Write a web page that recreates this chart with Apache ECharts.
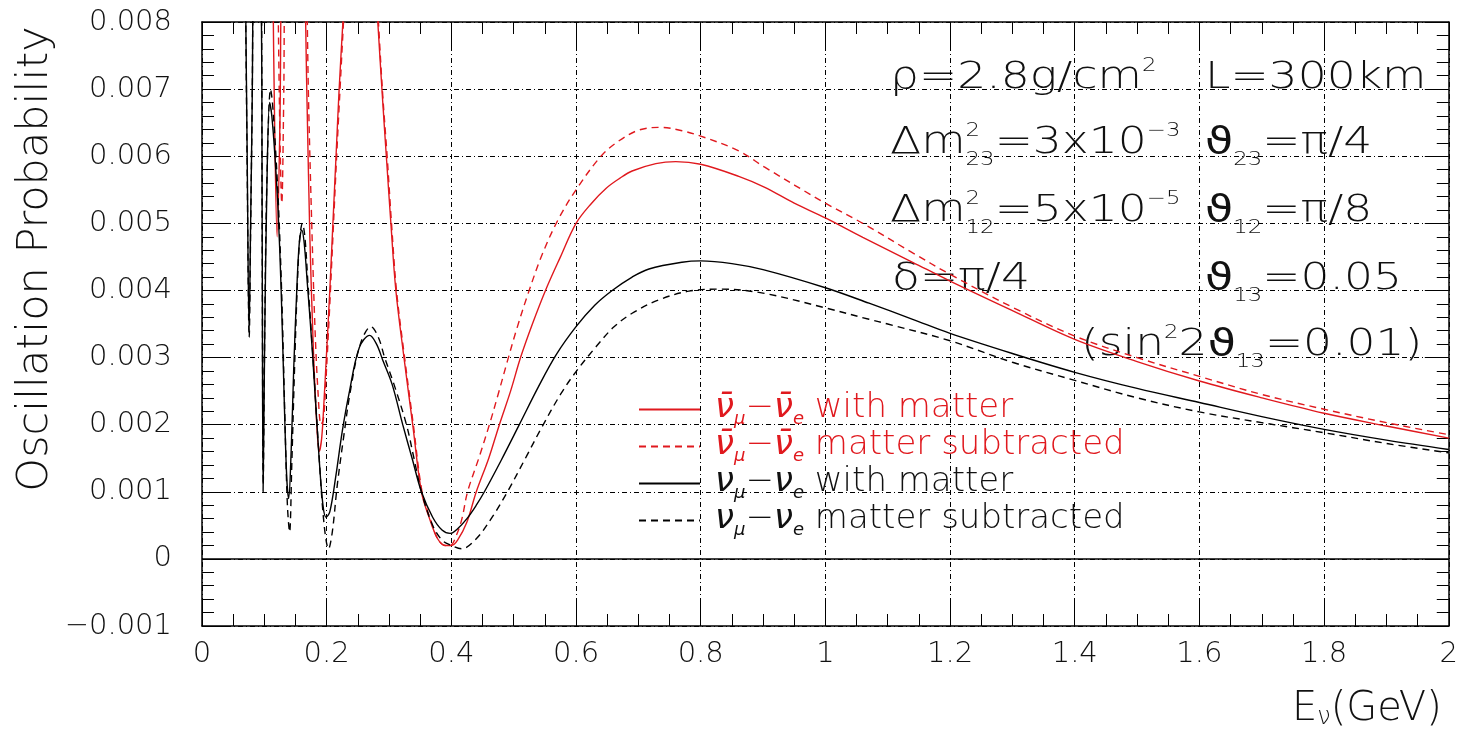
<!DOCTYPE html>
<html>
<head>
<meta charset="utf-8">
<title>Oscillation probability</title>
<script src="https://cdn.jsdelivr.net/npm/echarts@6/dist/echarts.min.js"></script>
<style>
  html, body { margin: 0; padding: 0; background: #fff; }
  #chart { width: 1461px; height: 733px; }
</style>
</head>
<body>
<div id="chart"></div>
<script>
// [E_nu (GeV), probability]; points above 0.008 run off the top
const antiWithMatter = [
  [0.113, 0.0092], [0.1165, 0.0065], [0.1205, 0.0048], [0.125, 0.0065], [0.129, 0.0092],
  [0.148, 0.012], [0.163, 0.0092], [0.1685, 0.0068], [0.173, 0.0048], [0.178, 0.0033],
  [0.183, 0.0022], [0.188, 0.0016], [0.192, 0.0018], [0.196, 0.0024], [0.2, 0.0031],
  [0.205, 0.004], [0.21, 0.005], [0.215, 0.006], [0.22, 0.007], [0.226, 0.008],
  [0.232, 0.009], [0.254, 0.0115], [0.276, 0.009], [0.282, 0.008], [0.29, 0.0068],
  [0.2957, 0.006], [0.303, 0.005], [0.311, 0.004], [0.324, 0.003], [0.338, 0.002],
  [0.352, 0.001], [0.365, 0.0006], [0.378, 0.0003], [0.39, 0.0002], [0.4, 0.0002],
  [0.41, 0.00028], [0.425, 0.00055], [0.44, 0.001], [0.46, 0.0015], [0.477, 0.002],
  [0.495, 0.0025], [0.511, 0.003], [0.53, 0.0035], [0.551, 0.004], [0.575, 0.0045],
  [0.6, 0.005], [0.625, 0.0053], [0.648, 0.00552], [0.67, 0.00567], [0.69, 0.00578],
  [0.728, 0.00589], [0.76, 0.00592], [0.8, 0.00588], [0.861, 0.0057], [0.902, 0.00554],
  [0.95, 0.0053], [1.0, 0.00508], [1.06, 0.00479], [1.14, 0.00442], [1.2, 0.00414],
  [1.3, 0.0037], [1.4, 0.00327], [1.5, 0.00294], [1.6, 0.00265], [1.7, 0.0024],
  [1.8, 0.00217], [1.9, 0.00198], [2.0, 0.0018]
];
const antiSubtracted = [
  [0.121, 0.0092], [0.1245, 0.0066], [0.128, 0.0053], [0.131, 0.0068], [0.134, 0.0092],
  [0.15, 0.0125], [0.166, 0.0092], [0.171, 0.0068], [0.176, 0.005], [0.181, 0.0035],
  [0.186, 0.0025], [0.191, 0.002], [0.195, 0.0021], [0.199, 0.0027], [0.204, 0.0036],
  [0.21, 0.0048], [0.216, 0.006], [0.222, 0.0071], [0.227, 0.008], [0.233, 0.009],
  [0.255, 0.0118], [0.277, 0.009], [0.283, 0.008], [0.29, 0.0069], [0.297, 0.006],
  [0.304, 0.005], [0.312, 0.004], [0.325, 0.003], [0.339, 0.002], [0.353, 0.001],
  [0.366, 0.0006], [0.378, 0.0003], [0.39, 0.0002], [0.398, 0.0002], [0.408, 0.00035],
  [0.417, 0.0006], [0.426, 0.001], [0.444, 0.0015], [0.461, 0.002], [0.475, 0.00245],
  [0.49, 0.00295], [0.505, 0.00343], [0.523, 0.00395], [0.545, 0.00452], [0.571, 0.00505],
  [0.6, 0.0055], [0.64, 0.006], [0.669, 0.00623], [0.701, 0.00639], [0.736, 0.00643],
  [0.77, 0.00638], [0.8, 0.0063], [0.861, 0.00608], [0.902, 0.00584], [1.0, 0.0053],
  [1.06, 0.005], [1.14, 0.00456], [1.2, 0.00424], [1.3, 0.00375], [1.4, 0.00332],
  [1.5, 0.003], [1.6, 0.00272], [1.7, 0.00245], [1.8, 0.00223], [1.9, 0.00203],
  [2.0, 0.00185]
];
const nuWithMatter = [
  [0.069, 0.0092], [0.0725, 0.006], [0.0755, 0.0034], [0.078, 0.005], [0.0805, 0.0068],
  [0.083, 0.0092], [0.089, 0.0105], [0.0945, 0.0092], [0.0965, 0.005], [0.098, 0.001],
  [0.1005, 0.0032], [0.104, 0.0055], [0.1085, 0.0068], [0.112, 0.0066], [0.117, 0.006],
  [0.122, 0.0052], [0.127, 0.004], [0.1324, 0.0022], [0.136, 0.0012], [0.139, 0.0009],
  [0.143, 0.0016], [0.147, 0.0028], [0.152, 0.004], [0.156, 0.0047], [0.16, 0.0049],
  [0.164, 0.0047], [0.169, 0.0041], [0.177, 0.0031], [0.1876, 0.00154], [0.194, 0.0008],
  [0.199, 0.00062], [0.205, 0.0007], [0.2146, 0.00123], [0.225, 0.0019], [0.236, 0.00247],
  [0.2524, 0.00315], [0.269, 0.00333], [0.28, 0.0032], [0.29, 0.00296], [0.305, 0.0026],
  [0.322, 0.002], [0.337, 0.0015], [0.352, 0.001], [0.37, 0.00062], [0.385, 0.00043],
  [0.398, 0.00038], [0.41, 0.00045], [0.425, 0.0006], [0.44, 0.0008], [0.453, 0.001],
  [0.48, 0.00147], [0.509, 0.002], [0.54, 0.00257], [0.568, 0.00304], [0.6, 0.00346],
  [0.63, 0.00378], [0.658, 0.004], [0.69, 0.0042], [0.717, 0.00432], [0.77, 0.00442],
  [0.8, 0.00444], [0.85, 0.0044], [0.9, 0.00431], [1.0, 0.00404], [1.07, 0.00381],
  [1.14, 0.00357], [1.2, 0.00336], [1.3, 0.00306], [1.4, 0.00278], [1.5, 0.00254],
  [1.6, 0.00233], [1.7, 0.00212], [1.8, 0.00193], [1.9, 0.00177], [2.0, 0.00163]
];
const nuSubtracted = [
  [0.069, 0.0092], [0.0725, 0.0058], [0.0757, 0.0033], [0.078, 0.0049], [0.0805, 0.0068],
  [0.083, 0.0092], [0.089, 0.0105], [0.0945, 0.0092], [0.0965, 0.005], [0.0982, 0.0011],
  [0.1005, 0.0033], [0.104, 0.0056], [0.11, 0.007], [0.113, 0.0068], [0.118, 0.0061],
  [0.123, 0.0052], [0.128, 0.0039], [0.133, 0.0021], [0.137, 0.0008], [0.1405, 0.0004],
  [0.144, 0.0014], [0.148, 0.0027], [0.153, 0.0041], [0.157, 0.0048], [0.161, 0.005],
  [0.165, 0.0048], [0.17, 0.0041], [0.178, 0.003], [0.188, 0.0015], [0.196, 0.0005],
  [0.203, 0.00015], [0.209, 0.0004], [0.217, 0.0011], [0.227, 0.0018], [0.238, 0.0025],
  [0.254, 0.0032], [0.271, 0.00346], [0.283, 0.0033], [0.293, 0.003], [0.308, 0.0026],
  [0.328, 0.002], [0.34, 0.0015], [0.352, 0.001], [0.37, 0.0005], [0.385, 0.00028],
  [0.4, 0.0002], [0.416, 0.00015], [0.44, 0.0003], [0.466, 0.00063], [0.49, 0.001],
  [0.52, 0.00152], [0.545, 0.00196], [0.575, 0.00245], [0.6, 0.00279], [0.632, 0.00316],
  [0.66, 0.00345], [0.69, 0.00366], [0.733, 0.00386], [0.781, 0.00399], [0.83, 0.00402],
  [0.9, 0.00396], [1.0, 0.00374], [1.07, 0.00357], [1.1, 0.0035], [1.2, 0.00325],
  [1.3, 0.00293], [1.4, 0.00266], [1.5, 0.0024], [1.6, 0.00219], [1.7, 0.00203],
  [1.8, 0.00188], [1.9, 0.00172], [2.0, 0.00158]
];

const xRange = [0, 2, 0.2];
const yRange = [-0.001, 0.008, 0.001];

// parameter block, [text, role]: n normal, g greek, u superscript,
// s superscript stacked on the next piece, d subscript
const paramRows = [
  [890, 90, [['ρ=2.8g/cm', 'n'], ['2', 'u']]],
  [1205, 90, [['L=300km', 'n']]],
  [890, 155, [['Δm', 'n'], ['2', 's'], ['23', 'd'], ['=3x10', 'n'], ['−3', 'u']]],
  [1205, 155, [['ϑ', 'g'], ['23', 'd'], ['=π/4', 'n']]],
  [890, 223, [['Δm', 'n'], ['2', 's'], ['12', 'd'], ['=5x10', 'n'], ['−5', 'u']]],
  [1205, 223, [['ϑ', 'g'], ['12', 'd'], ['=π/8', 'n']]],
  [892, 291, [['δ=π/4', 'n']]],
  [1205, 291, [['ϑ', 'g'], ['13', 'd'], ['=0.05', 'n']]],
  [1081, 357, [['(sin', 'n'], ['2', 'u'], ['2', 'n'], ['ϑ', 'g'], ['13', 'd'], ['=0.01)', 'n']]]
];

const RED = '#e0191e';
const FONT = "'DejaVu Sans', sans-serif";
const FW = 200;

const meas = document.createElement('canvas').getContext('2d');
function textWidth(t, size, fw) {
  meas.font = fw + ' ' + size + 'px ' + FONT;
  return meas.measureText(t).width;
}

function mathText(x0, base, pieces, o) {
  let x = x0;
  const els = [];
  for (const [t, role] of pieces) {
    const big = role === 'n' || role === 'g';
    const fs = big ? o.size : o.small;
    const rise = big ? 0 : (role === 'd' ? -o.down : o.up);
    const fw = role === 'g' ? 400 : FW;
    const style = { text: t, fontSize: fs, fontFamily: FONT, fontWeight: fw, fill: o.color,
      align: 'left', verticalAlign: 'middle' };
    if (role === 'g') {
      // the thin face lacks this glyph; thin the regular one with a white outline
      style.stroke = '#fff';
      style.lineWidth = 2.2;
      style.strokeFirst = false;
    }
    els.push({ type: 'text', x: x, y: base - rise - 0.3 * fs, scaleX: o.sx, silent: true, style: style });
    if (role !== 's') x += textWidth(t, fs, fw) * o.sx;
  }
  return els;
}

const graphics = [];
paramRows.forEach(([x, y, p]) => {
  graphics.push(...mathText(x, y, p, { size: 38, small: 19, up: 18, down: 11, sx: 1.2, color: '#111' }));
});
graphics.push(...mathText(1292, 722, [['E', 'n'], ['ν', 'd'], ['(GeV)', 'n']],
  { size: 40, small: 24, up: 0, down: 3, sx: 1.0, color: '#111' }));
graphics.push({
  type: 'text', x: 36, y: 259, rotation: Math.PI / 2, silent: true,
  style: { text: 'Oscillation Probability', fontSize: 43, fontFamily: FONT, fontWeight: FW,
    fill: '#111', align: 'center', verticalAlign: 'middle' }
});

const legendText = {
  antiWith: '{p|}{nr|ν̄}{sr|μ}{tr|−}{nr|ν̄}{sr|e}{tr| with matter}',
  antiSub: '{p|}{nr|ν̄}{sr|μ}{tr|−}{nr|ν̄}{sr|e}{tr| matter subtracted}',
  nuWith: '{p|}{nk|ν}{sk|μ}{tk|−}{nk|ν}{sk|e}{tk| with matter}',
  nuSub: '{p|}{nk|ν}{sk|μ}{tk|−}{nk|ν}{sk|e}{tk| matter subtracted}'
};
const tok = (color, size, pad, italic) => ({
  color: color, fontSize: size, fontFamily: FONT, fontWeight: FW,
  fontStyle: italic ? 'italic' : 'normal', padding: [0, 0, pad, 0], verticalAlign: 'bottom'
});

const chart = echarts.init(document.getElementById('chart'));

const axisLineStyle = { color: '#000', width: 1.5 };
const tickStyle = { color: '#000', width: 1 };
const labelStyle = { color: '#111', fontSize: 29, fontFamily: FONT, fontWeight: FW };

function lineSeries(name, data, color, dashed) {
  return {
    name: name, type: 'line', data: data, symbol: 'none', smooth: 0.35,
    clip: true, animation: false,
    lineStyle: { color: color, width: 1.4, type: dashed ? [7, 5] : 'solid' },
    itemStyle: { color: color, opacity: 0 }
  };
}

const s0 = lineSeries('antiWith', antiWithMatter, RED, false);
s0.markLine = {
  silent: true, symbol: ['none', 'none'], label: { show: false }, animation: false,
  lineStyle: { color: '#000', type: 'solid', width: 1.5 },
  data: [{ yAxis: 0 }]
};

chart.setOption({
  backgroundColor: '#fff',
  animation: false,
  grid: { left: 202, top: 22, width: 1250, height: 604 },
  xAxis: [{
    type: 'value', min: xRange[0], max: xRange[1], interval: xRange[2], position: 'bottom',
    axisLine: { onZero: false, lineStyle: axisLineStyle },
    axisTick: { inside: true, length: 24, lineStyle: tickStyle },
    minorTick: { show: true, splitNumber: 4, length: 12, lineStyle: tickStyle },
    splitLine: { show: true, lineStyle: { color: '#000', width: 1, type: [5, 3, 1, 3] } },
    axisLabel: Object.assign({ margin: 14, formatter: v => String(Math.round(v * 10) / 10) }, labelStyle)
  }, {
    type: 'value', min: xRange[0], max: xRange[1], interval: xRange[2], position: 'top',
    axisLine: { onZero: false, lineStyle: axisLineStyle },
    axisTick: { inside: true, length: 24, lineStyle: tickStyle },
    minorTick: { show: true, splitNumber: 4, length: 12, lineStyle: tickStyle },
    splitLine: { show: false }, axisLabel: { show: false }
  }],
  yAxis: [{
    type: 'value', min: yRange[0], max: yRange[1], interval: yRange[2], position: 'left',
    axisLine: { onZero: false, lineStyle: axisLineStyle },
    axisTick: { inside: true, length: 24, lineStyle: tickStyle },
    minorTick: { show: true, splitNumber: 5, length: 12, lineStyle: tickStyle },
    splitLine: { show: true, lineStyle: { color: '#000', width: 1, type: [5, 3, 1, 3] } },
    axisLabel: Object.assign({
      margin: 30,
      formatter: v => {
        const r = Math.round(v * 1000);
        return r === 0 ? '0' : (r < 0 ? '−' : '') + (Math.abs(r) / 1000).toFixed(3);
      }
    }, labelStyle)
  }, {
    type: 'value', min: yRange[0], max: yRange[1], interval: yRange[2], position: 'right',
    axisLine: { onZero: false, lineStyle: axisLineStyle },
    axisTick: { inside: true, length: 24, lineStyle: tickStyle },
    minorTick: { show: true, splitNumber: 5, length: 12, lineStyle: tickStyle },
    splitLine: { show: false }, axisLabel: { show: false }
  }],
  legend: {
    orient: 'vertical', left: 633, top: 386, itemWidth: 61, itemHeight: 14, itemGap: 0,
    selectedMode: false,
    itemStyle: { opacity: 0 },
    data: ['antiWith', 'antiSub', 'nuWith', 'nuSub'],
    formatter: name => legendText[name],
    textStyle: {
      rich: {
        p: { width: 10 },
        nr: tok(RED, 34, 3, true), sr: tok(RED, 18, 0, true), tr: tok(RED, 34, 3, false),
        nk: tok('#111', 34, 3, true), sk: tok('#111', 18, 0, true), tk: tok('#111', 34, 3, false)
      }
    }
  },
  graphic: graphics,
  series: [
    s0,
    lineSeries('antiSub', antiSubtracted, RED, true),
    lineSeries('nuWith', nuWithMatter, '#000', false),
    lineSeries('nuSub', nuSubtracted, '#000', true)
  ]
});
</script>
</body>
</html>
